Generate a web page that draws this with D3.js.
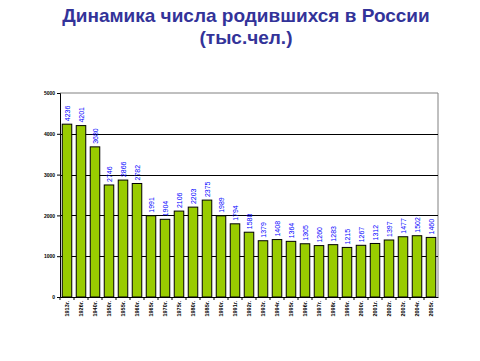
<!DOCTYPE html>
<html><head><meta charset="utf-8">
<script src="https://cdn.jsdelivr.net/npm/d3@7"></script>
<style>body{margin:0;background:#fff}svg{display:block}</style>
</head><body><svg id="c" width="480" height="361"></svg>
<script>
const categories = ["1913г.","1926г.","1940г.","1950г.","1955г.","1960г.","1965г.","1970г.","1975г.","1980г.","1985г.","1990г.","1991г.","1992г.","1993г.","1994г.","1995г.","1996г.","1997г.","1998г.","1999г.","2000г.","2001г.","2002г.","2003г.","2004г.","2005г."];
const births = [4236,4201,3680,2746,2866,2782,1991,1904,2106,2203,2375,1989,1794,1588,1379,1408,1364,1305,1260,1283,1215,1267,1312,1397,1477,1502,1460];
const yTicks = [0,1000,2000,3000,4000,5000];
const titleLines = ["Динамика числа родившихся в России","(тыс.чел.)"];

const svg = d3.select("#c");
const L=60, R=438, T=93, B=297;
const x = d3.scaleBand().domain(categories).range([L,R]).paddingInner(0.32).paddingOuter(0.16);
const y = d3.scaleLinear().domain([0,5000]).range([B,T]);

svg.append("g").selectAll("text").data(titleLines).join("text")
  .attr("x",246).attr("y",(d,i)=>22+i*22).attr("text-anchor","middle")
  .attr("font-family","Liberation Sans, Arial, sans-serif").attr("font-weight","bold")
  .attr("font-size",19).attr("fill","#333399").text(d=>d);

svg.append("path").attr("d",`M${L},${T}H${R}V${B}`).attr("fill","none").attr("stroke","#808080").attr("stroke-width",1);
svg.append("g").selectAll("line").data(yTicks.filter(d=>d>0&&d<5000)).join("line")
  .attr("x1",L).attr("x2",R).attr("y1",d=>Math.round(y(d))+0.5).attr("y2",d=>Math.round(y(d))+0.5)
  .attr("stroke","#000").attr("stroke-width",1);

svg.append("g").selectAll("rect").data(births).join("rect")
  .attr("x",(d,i)=>x(categories[i])).attr("width",x.bandwidth())
  .attr("y",d=>y(d)).attr("height",d=>B-y(d))
  .attr("fill","#99CC00").attr("stroke","#000").attr("stroke-width",1);

svg.append("g").selectAll("text").data(births).join("text")
  .attr("transform",(d,i)=>`translate(${x(categories[i])+x.bandwidth()/2+2.5},${y(d)-3}) rotate(-90)`)
  .attr("font-family","Liberation Sans, Arial, sans-serif").attr("font-size",7)
  .attr("fill","#0000FF").text(d=>d);

const yAxis = svg.append("g").attr("transform",`translate(${L},0)`)
  .call(d3.axisLeft(y).tickValues(yTicks).tickFormat(d3.format("d")).tickSize(3).tickPadding(2));
yAxis.select(".domain").attr("stroke","#000");
yAxis.selectAll("text").attr("font-family","Liberation Sans, Arial, sans-serif").attr("font-size",5).attr("font-weight","bold");

const xAxis = svg.append("g").attr("transform",`translate(0,${B})`)
  .call(d3.axisBottom(x).tickSize(3).tickSizeOuter(0));
xAxis.selectAll(".tick line").attr("transform",`translate(${-x.step()/2},0)`);
xAxis.select(".domain").attr("stroke","#000");
xAxis.selectAll("text").attr("transform","rotate(-90)").attr("text-anchor","end")
  .attr("x",-4).attr("y",0).attr("dy","0.35em")
  .attr("font-family","Liberation Sans, Arial, sans-serif").attr("font-size",5.5).attr("font-weight","bold");
</script></body></html>
